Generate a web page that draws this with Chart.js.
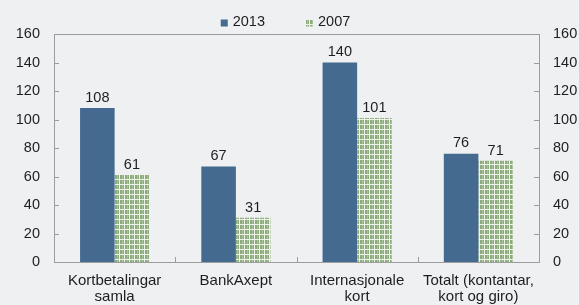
<!DOCTYPE html>
<html>
<head>
<meta charset="utf-8">
<script src="https://cdn.jsdelivr.net/npm/chart.js@4.4.1/dist/chart.umd.min.js"></script>
<style>
  html, body { margin: 0; padding: 0; background: #eff0f2; }
  #wrap { width: 579px; height: 305px; position: relative; }
</style>
</head>
<body>
<div id="wrap"><canvas id="cardChart"></canvas></div>
<script>
const categories = [
  ['Kortbetalingar', 'samla'],
  ['BankAxept'],
  ['Internasjonale', 'kort'],
  ['Totalt (kontantar,', 'kort og giro)'],
];
const seriesNames = ['2013', '2007'];
const values2013 = [108, 67, 140, 76];
const values2007 = [61, 31, 101, 71];
const yTicks = [0, 20, 40, 60, 80, 100, 120, 140, 160];

const FONT = "'Liberation Sans', Arial, sans-serif";
const TEXT = '#1e1e1e';
const AXIS = '#9c9c9c';

// green hatched fill used for 2007
function makeHatch() {
  const c = document.createElement('canvas');
  c.width = 5;
  c.height = 5;
  const g = c.getContext('2d');
  g.fillStyle = '#8dab7c';
  g.fillRect(0, 0, 5, 5);
  g.fillStyle = '#a9c29a';
  g.fillRect(2, 0, 1, 5);
  g.fillStyle = '#eef3ea';
  g.fillRect(4, 0, 1, 5);
  g.fillRect(0, 4, 5, 1);
  return g.createPattern(c, 'repeat');
}
const hatch = makeHatch();

// frame on top + small inside tick marks
const framePlugin = {
  id: 'frame',
  afterDraw(chart) {
    const { ctx, chartArea: a } = chart;
    const y = chart.scales.y;
    const x = chart.scales.x;
    ctx.save();
    ctx.strokeStyle = AXIS;
    ctx.lineWidth = 1;
    ctx.beginPath();
    ctx.moveTo(a.left, a.top + 0.5);
    ctx.lineTo(a.right, a.top + 0.5);
    yTicks.forEach((v) => {
      const py = Math.round(y.getPixelForValue(v)) + 0.5;
      ctx.moveTo(a.left, py);
      ctx.lineTo(a.left + 5, py);
      ctx.moveTo(a.right, py);
      ctx.lineTo(a.right - 5, py);
    });
    for (let i = 1; i < categories.length; i++) {
      const px = Math.round((x.getPixelForValue(i - 1) + x.getPixelForValue(i)) / 2) + 0.5;
      ctx.moveTo(px, a.bottom);
      ctx.lineTo(px, a.bottom - 5);
    }
    ctx.stroke();
    ctx.restore();
  },
};

// value labels above bars
const valueLabels = {
  id: 'valueLabels',
  afterDatasetsDraw(chart) {
    const { ctx } = chart;
    ctx.save();
    ctx.font = '14.5px ' + FONT;
    ctx.fillStyle = TEXT;
    ctx.textAlign = 'center';
    ctx.textBaseline = 'bottom';
    chart.data.datasets.forEach((ds, i) => {
      chart.getDatasetMeta(i).data.forEach((bar, j) => {
        ctx.fillText(String(ds.data[j]), bar.x, bar.y - 3);
      });
    });
    ctx.restore();
  },
};

// legend drawn at top centre
const topLegend = {
  id: 'topLegend',
  afterDraw(chart) {
    const { ctx } = chart;
    ctx.save();
    ctx.font = '14.5px ' + FONT;
    ctx.textBaseline = 'middle';
    const box = 7;
    const gap = 5;
    const itemGap = 41;
    const widths = chart.data.datasets.map(ds => box + gap + ctx.measureText(ds.label).width);
    const total = widths.reduce((s, w) => s + w, 0) + itemGap * (widths.length - 1);
    let cx = chart.width / 2 - 4 - total / 2;
    const cy = 22;
    chart.data.datasets.forEach((ds, i) => {
      ctx.fillStyle = ds.backgroundColor;
      ctx.fillRect(cx, cy - box / 2 + 1, box, box);
      ctx.fillStyle = TEXT;
      ctx.fillText(ds.label, cx + box + gap, cy);
      cx += widths[i] + itemGap;
    });
    ctx.restore();
  },
};

const ctx = document.getElementById('cardChart');
const cardChart = new Chart(ctx, {
  type: 'bar',
  data: {
    labels: categories,
    datasets: [
      {
        label: seriesNames[0],
        data: values2013,
        backgroundColor: '#456a8f',
        categoryPercentage: 0.57,
        barPercentage: 1,
      },
      {
        label: seriesNames[1],
        data: values2007,
        backgroundColor: hatch,
        categoryPercentage: 0.57,
        barPercentage: 1,
      },
    ],
  },
  options: {
    responsive: true,
    maintainAspectRatio: false,
    animation: false,
    devicePixelRatio: 1,
    layout: { padding: { top: 34, left: 0, right: 0, bottom: 0 } },
    plugins: {
      legend: { display: false },
      tooltip: { enabled: false },
    },
    scales: {
      x: {
        grid: { display: false },
        border: { display: true, color: AXIS, width: 1 },
        ticks: {
          color: TEXT,
          font: { family: FONT, size: 15, lineHeight: 1.07 },
          padding: 3,
          maxRotation: 0,
          autoSkip: false,
        },
        afterFit(scale) { scale.height = 43; },
      },
      y: {
        position: 'left',
        min: 0,
        max: 160,
        grid: { display: false, drawTicks: false },
        border: { display: true, color: AXIS, width: 1 },
        ticks: {
          stepSize: 20,
          color: TEXT,
          font: { family: FONT, size: 14.5 },
          padding: 14,
        },
        afterFit(scale) { scale.width = 54; },
      },
      y2: {
        position: 'right',
        min: 0,
        max: 160,
        grid: { display: false, drawTicks: false },
        border: { display: true, color: AXIS, width: 1 },
        ticks: {
          stepSize: 20,
          color: TEXT,
          font: { family: FONT, size: 14.5 },
          padding: 14,
        },
        afterFit(scale) { scale.width = 40; },
      },
    },
  },
  plugins: [framePlugin, valueLabels, topLegend],
});
</script>
</body>
</html>
